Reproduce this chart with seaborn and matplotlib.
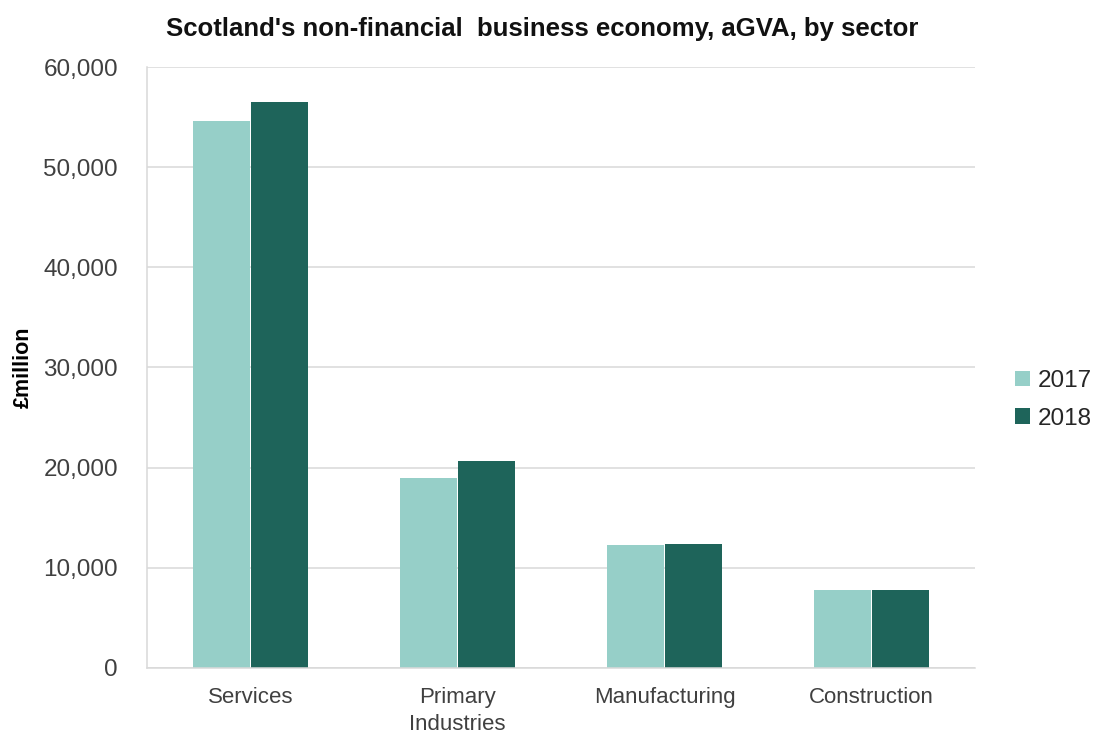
import matplotlib
matplotlib.use("Agg")
import matplotlib.pyplot as plt
from matplotlib.patches import Patch
import seaborn as sns
import pandas as pd

sectors = ["Services", "Primary\nIndustries", "Manufacturing", "Construction"]
years = ["2017", "2018"]
gva_2017 = [54600, 18950, 12250, 7750]
gva_2018 = [56550, 20650, 12400, 7750]

df = pd.DataFrame({
    "sector": sectors * 2,
    "year": [years[0]] * len(sectors) + [years[1]] * len(sectors),
    "gva": gva_2017 + gva_2018,
})

colors = {"2017": "#96CFC8", "2018": "#1E645A"}

sns.set_theme(style="white")
plt.rcParams["font.family"] = ["Liberation Sans", "DejaVu Sans"]

fig = plt.figure(figsize=(10.99, 7.35), dpi=100)
ax = fig.add_axes([0.1338, 0.0912, 0.7534, 0.8176])

sns.barplot(data=df, x="sector", y="gva", hue="year", order=sectors,
            hue_order=years, palette=colors, width=0.56, gap=0.025,
            linewidth=0, saturation=1, ax=ax, legend=False)

ax.set_ylim(0, 60000)
ax.set_xlim(-0.5, len(sectors) - 0.5)
ax.set_yticks(range(0, 60001, 10000))
ax.yaxis.set_major_formatter(matplotlib.ticker.FuncFormatter(lambda v, p: f"{int(v):,}"))
ax.grid(axis="y", color="#D9D9D9", linewidth=1.1)
ax.set_axisbelow(True)
for side in ["top", "right"]:
    ax.spines[side].set_visible(False)
for side in ["left", "bottom"]:
    ax.spines[side].set_color("#D9D9D9")
    ax.spines[side].set_linewidth(1.1)
ax.tick_params(axis="both", length=0, colors="#404040")
ax.tick_params(axis="y", labelsize=17.5, pad=21)
ax.tick_params(axis="x", labelsize=16, pad=14)
for lbl in ax.get_xticklabels():
    lbl.set_linespacing(1.35)
ax.set_xlabel("")
ax.set_ylabel("£million", fontsize=15.5, fontweight="bold", color="#000000")
ax.yaxis.set_label_coords(-0.137, 0.5)

fig.suptitle("Scotland's non-financial  business economy, aGVA, by sector",
             x=0.493, y=0.977, fontsize=18.5, fontweight="bold", color="#111111")

handles = [Patch(facecolor=colors[y], edgecolor="none", label=y) for y in years]
fig.legend(handles=handles, loc="center left", bbox_to_anchor=(0.924, 0.456),
           frameon=False, fontsize=17.5, handlelength=0.6, handleheight=0.6,
           handletextpad=0.3, labelspacing=0.65, labelcolor="#262626",
           borderpad=0, borderaxespad=0)

fig.savefig("out.png", dpi=100)
